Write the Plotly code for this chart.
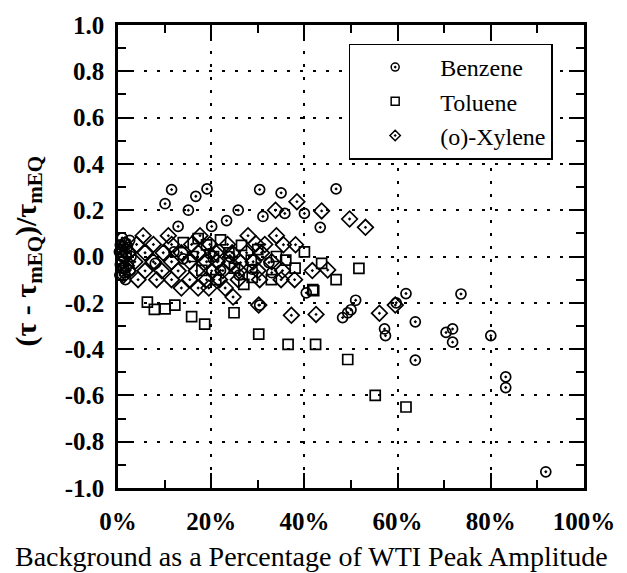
import plotly.graph_objects as go

# ---------------- data ----------------
benzene_x = [0.5, 0.8, 1.0, 0.6, 1.2, 0.4, 1.5, 2.0, 1.8, 2.2, 1.4, 2.5, 0.9, 0.3, 0.7, 1.6, 2.8, 2.6, 1.1, 0.5,
             11.5, 16.7, 19.1, 10.1, 15.1, 12.9, 20.1, 30.4, 35.0, 25.8, 23.3, 31.1, 35.8, 40.0, 43.4, 46.8,
             32.4, 28.8, 30.4, 40.4, 51.0, 49.3, 48.2, 50.0, 59.7, 61.8, 73.6, 57.2, 57.4, 63.8, 63.8,
             70.4, 71.8, 71.8, 80.0, 83.2, 83.2, 91.8,
             19.7, 14.0, 22.0, 26.0, 24.0, 12.0, 8.0, 33.0]
benzene_y = [0.05, 0.03, 0.0, -0.02, -0.05, -0.08, 0.06, 0.04, 0.01, -0.03, -0.07, 0.07, 0.08, 0.02, -0.05, -0.10, 0.0, -0.06, 0.045, -0.035,
             0.289, 0.26, 0.292, 0.228, 0.20, 0.13, 0.13, 0.289, 0.275, 0.20, 0.155, 0.173, 0.186, 0.186, 0.126, 0.292,
             -0.026, -0.055, -0.21, -0.157, -0.189, -0.243, -0.264, -0.23, -0.20, -0.16, -0.162, -0.313, -0.342, -0.282, -0.448,
             -0.328, -0.313, -0.37, -0.342, -0.52, -0.566, -0.93,
             0.013, -0.01, -0.06, -0.08, 0.0, 0.02, -0.03, -0.07]

toluene_x = [6.3, 7.8, 10.1, 12.2, 15.8, 18.6, 24.9, 30.2, 36.5, 42.4, 49.3, 55.2, 61.8,
             43.7, 51.7, 46.8, 42.0, 40.0,
             22.0, 26.5, 23.8, 36.0, 28.6, 32.9, 28.8, 41.8, 17.2, 19.0, 20.5, 18.0, 25.0, 30.0, 34.0, 38.0, 21.0, 14.0, 16.0, 27.0]
toluene_y = [-0.197, -0.228, -0.226, -0.21, -0.26, -0.292, -0.243, -0.335, -0.38, -0.38, -0.445, -0.60, -0.65,
             -0.03, -0.051, -0.10, -0.148, 0.02,
             0.072, 0.048, 0.016, -0.016, -0.016, -0.10, -0.09, -0.143, 0.077, 0.05, 0.0, -0.06, -0.05, 0.03, 0.0, -0.05, -0.10, 0.06, 0.0, -0.12]

xylene_x = [5.4, 10.8, 17.6, 27.9, 34.0,
            4.0, 7.6, 11.5, 15.8, 19.7, 23.5, 29.6, 31.5, 35.5, 38.1,
            2.2, 5.8, 9.7, 13.6, 17.2, 21.0, 24.5, 27.6, 30.8,
            3.6, 7.6, 11.5, 15.4, 19.0, 21.3, 24.0, 26.3, 29.0, 33.0,
            2.2, 5.8, 9.4, 12.9, 16.8, 20.1, 22.5, 26.0, 30.0, 35.3, 41.7, 45.0,
            4.3, 8.3, 11.5, 15.4, 19.0, 21.8, 25.8, 30.4, 35.0, 37.9,
            13.6, 17.2, 19.5, 23.0,
            38.4, 33.8, 43.7, 49.7, 53.1, 24.7, 30.2, 37.2, 42.5, 56.1, 59.5,
            1.5, 1.5, 1.8, 1.2]
xylene_y = [0.09, 0.09, 0.09, 0.09, 0.09,
            0.052, 0.052, 0.052, 0.052, 0.052, 0.052, 0.055, 0.052, 0.051, 0.051,
            0.016, 0.016, 0.016, 0.016, 0.016, 0.016, 0.016, 0.016, 0.016,
            -0.023, -0.023, -0.023, -0.023, -0.023, -0.023, -0.027, -0.027, -0.023, -0.023,
            -0.062, -0.062, -0.062, -0.062, -0.062, -0.062, -0.061, -0.062, -0.061, -0.061, -0.061, -0.058,
            -0.10, -0.10, -0.10, -0.10, -0.10, -0.10, -0.10, -0.10, -0.10, -0.10,
            -0.136, -0.136, -0.136, -0.136,
            0.237, 0.20, 0.197, 0.162, 0.126, -0.175, -0.21, -0.254, -0.25, -0.245, -0.21,
            0.05, 0.0, -0.04, -0.08]

x_tick_vals = [0, 20, 40, 60, 80, 100]
x_tick_text = ["0%", "20%", "40%", "60%", "80%", "100%"]
y_tick_vals = [-1.0, -0.8, -0.6, -0.4, -0.2, 0.0, 0.2, 0.4, 0.6, 0.8, 1.0]
y_tick_text = ["-1.0", "-0.8", "-0.6", "-0.4", "-0.2", "0.0", "0.2", "0.4", "0.6", "0.8", "1.0"]

series_names = ["Benzene", "Toluene", "(o)-Xylene"]
series_symbols = ["circle-open-dot", "square-open", "diamond-open-dot"]

x_title = "Background as a Percentage of WTI Peak Amplitude"
y_title = "<b>(τ - τ<sub>mEQ</sub>)/τ<sub>mEQ</sub></b>"

# ---------------- figure ----------------
FONT = "Liberation Serif"
fig = go.Figure()

series = [(benzene_x, benzene_y, 10), (toluene_x, toluene_y, 10), (xylene_x, xylene_y, 12)]
for (xs, ys, size), name, sym in zip(series, series_names, series_symbols):
    fig.add_trace(go.Scatter(
        x=xs, y=ys, mode="markers", name=name, cliponaxis=False, showlegend=False,
        marker=dict(symbol=sym, size=size, color="black",
                    line=dict(color="black", width=1.7)),
    ))
# legend entries (smaller symbols, as in the reference key)
for name, sym in zip(series_names, series_symbols):
    fig.add_trace(go.Scatter(
        x=[None], y=[None], mode="markers", name=name, showlegend=True,
        marker=dict(symbol=sym, size=8, color="black",
                    line=dict(color="black", width=1.5)),
    ))

axis_common = dict(
    showline=True, linecolor="black", linewidth=2.5, mirror="ticks",
    ticks="inside", ticklen=15, tickwidth=2, tickcolor="black",
    showgrid=True, gridcolor="black", gridwidth=2, griddash="3px,10px",
    zeroline=False,
    tickfont=dict(family=FONT, size=25, color="black", weight="bold"),
)

fig.update_xaxes(
    range=[0, 100], tickmode="array", tickvals=x_tick_vals,
    ticktext=["<b>" + t + "</b>" for t in x_tick_text],
    ticklabelstandoff=9,
    minor=dict(ticks="inside", ticklen=8, tickwidth=2, tickcolor="black", dtick=10, showgrid=False),
    **axis_common,
)
fig.update_yaxes(
    range=[-1, 1], tickmode="array", tickvals=y_tick_vals,
    ticktext=["<b>" + t + "</b>" for t in y_tick_text],
    ticklabelstandoff=6,
    minor=dict(ticks="inside", ticklen=8, tickwidth=2, tickcolor="black", dtick=0.1, showgrid=False),
    **axis_common,
)

# axis titles as annotations (the reference centres the x title on the page)
fig.add_annotation(text=x_title, xref="paper", yref="paper", x=0.415, y=-0.149,
                   xanchor="center", yanchor="middle", showarrow=False,
                   font=dict(family=FONT, size=28, color="black"))
fig.add_annotation(text=y_title, xref="paper", yref="paper", x=-0.193, y=0.511,
                   xanchor="center", yanchor="middle", showarrow=False, textangle=-90,
                   font=dict(family=FONT, size=30, color="black"))

fig.update_layout(
    width=627, height=573,
    margin=dict(l=118, r=42, t=18, b=85),
    paper_bgcolor="white", plot_bgcolor="white",
    showlegend=True,
    legend=dict(x=0.495, y=0.96, xanchor="left", yanchor="top",
                bgcolor="white", bordercolor="black", borderwidth=1.5,
                font=dict(family=FONT, size=24, color="black"),
                itemwidth=80, tracegroupgap=0),
)

fig.write_html("out.html")
